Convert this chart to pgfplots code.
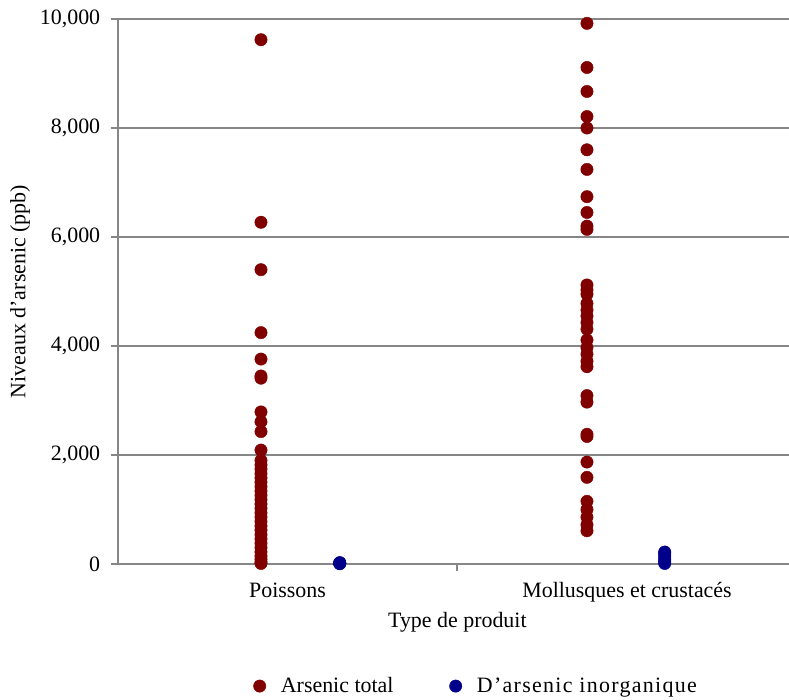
\documentclass[border=0pt]{standalone}
\usepackage{fontspec}
\setmainfont{Liberation Serif}
\usepackage{pgfplots}
\pgfplotsset{compat=1.18}

\definecolor{totred}{RGB}{128,0,0}
\definecolor{inorgblue}{RGB}{0,0,139}
\definecolor{gridgray}{RGB}{134,134,134}

\begin{document}
\begin{tikzpicture}[font=\fontsize{22}{26}\selectfont]
% picture frame: 789 x 700, plot box starts at (117.7, 564) from top-left
\useasboundingbox (-117.7bp,-136bp) rectangle (671.3bp,564bp);
\begin{axis}[
    at={(0,0)}, anchor=south west,
    scale only axis,
    width=671.3bp, height=545bp,
    xmin=0, xmax=1.977,
    ymin=0, ymax=10000,
    clip=false,
    axis x line*=bottom,
    axis y line*=left,
    axis line style={gridgray, line width=1.8bp},
    ytick={0,2000,4000,6000,8000,10000},
    ymajorgrids,
    grid style={gridgray, line width=1.6bp},
    tick align=outside,
    tick style={gridgray, line width=1.6bp},
    major tick length=7bp,
    xtick={1},
    xticklabels={},
    extra x ticks={0.5,1.5},
    extra x tick labels={Poissons,Mollusques et crustacés},
    extra x tick style={major tick length=0pt, grid=none},
    scaled y ticks=false,
    /pgf/number format/.cd, 1000 sep={,}, assume math mode=true,
    /pgfplots/.cd,
    yticklabel style={xshift=-7bp},
    xticklabel style={yshift=-15bp},
    xlabel={Type de produit},
    ylabel={Niveaux d’arsenic (ppb)},
    xlabel style={at={(axis description cs:0.506,-0.1066)}, anchor=center},
    ylabel style={at={(axis description cs:-0.1455,0.5)}, anchor=center},
    legend columns=2,
    legend style={at={(axis description cs:0.534,-0.224)}, anchor=center,
        draw=none, fill=none,
        /tikz/every odd column/.append style={column sep=13bp},
        /tikz/every even column/.append style={column sep=54bp}},
    legend cell align=left,
]
\addplot[only marks, mark=*, mark size=6.2bp, mark options={draw=totred, fill=totred}]
coordinates {
(0.422,9620) (0.422,6270) (0.422,5400) (0.422,4245) (0.422,3760)
(0.422,3450) (0.422,3410) (0.422,2790) (0.422,2610) (0.422,2430)
(0.422,2090) (0.422,1900) (0.422,1820) (0.422,1740) (0.422,1660)
(0.422,1580) (0.422,1500) (0.422,1420) (0.422,1340) (0.422,1260)
(0.422,1180) (0.422,1100) (0.422,1020) (0.422,940) (0.422,860)
(0.422,780) (0.422,700) (0.422,620) (0.422,540) (0.422,460)
(0.422,380) (0.422,300) (0.422,220) (0.422,150) (0.422,90)
(0.422,40) (0.422,10)
(1.382,9920) (1.382,9110) (1.382,8670) (1.382,8210) (1.382,8000)
(1.382,7600) (1.382,7240) (1.382,6740) (1.382,6450) (1.382,6200)
(1.382,6140) (1.382,5120) (1.382,5030) (1.382,4950) (1.382,4780)
(1.382,4660) (1.382,4550) (1.382,4430) (1.382,4310) (1.382,4110)
(1.382,3970) (1.382,3850) (1.382,3720) (1.382,3620) (1.382,3090)
(1.382,2970) (1.382,2380) (1.382,2340) (1.382,1870) (1.382,1590)
(1.382,1150) (1.382,1000) (1.382,860) (1.382,720) (1.382,610)
};
\addlegendentry{Arsenic total}
\addplot[only marks, mark=*, mark size=6.2bp, mark options={draw=inorgblue, fill=inorgblue}]
coordinates {
(0.654,5) (0.654,10) (0.654,15) (0.654,20) (0.654,25)
(1.611,10) (1.611,40) (1.611,80) (1.611,120) (1.611,160)
(1.611,200) (1.611,220)
};
\addlegendentry{\addfontfeature{LetterSpace=6}D’arsenic inorganique}
\end{axis}
\end{tikzpicture}
\end{document}
